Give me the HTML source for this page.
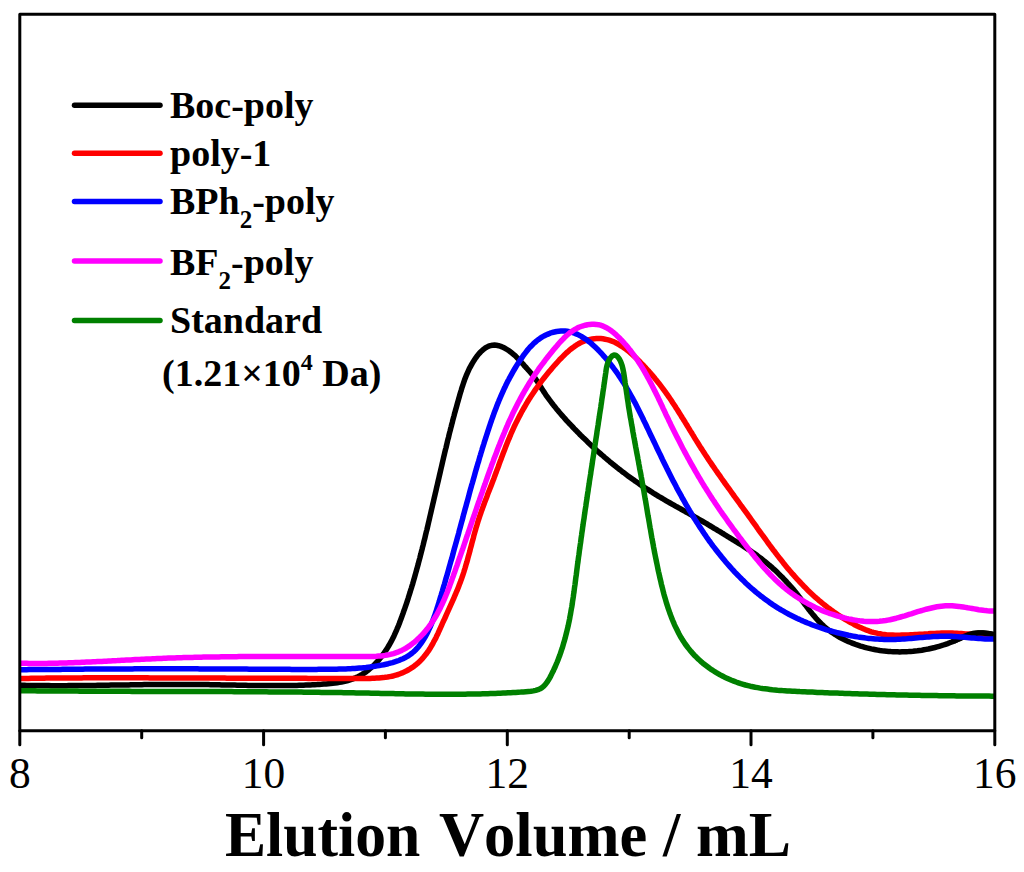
<!DOCTYPE html>
<html><head><meta charset="utf-8"><style>
html,body{margin:0;padding:0;background:#fff;}
svg{display:block;}
</style></head><body>
<svg width="1024" height="872" viewBox="0 0 1024 872">
<defs><clipPath id="cr"><rect x="955" y="600" width="45" height="60"/></clipPath></defs>
<rect width="1024" height="872" fill="#fff"/>
<g fill="none" stroke-width="5.5" stroke-linejoin="round" stroke-linecap="butt">
<path d="M20.1,685.2 L22.3,685.3 L24.5,685.3 L26.7,685.4 L28.9,685.4 L31.1,685.5 L33.3,685.5 L35.5,685.5 L37.7,685.6 L39.9,685.6 L42.1,685.6 L44.3,685.6 L46.6,685.6 L48.8,685.6 L51.0,685.7 L53.2,685.7 L55.4,685.7 L57.6,685.7 L59.8,685.7 L62.1,685.7 L64.3,685.7 L66.5,685.7 L68.7,685.6 L70.9,685.6 L73.1,685.6 L75.4,685.6 L77.6,685.6 L79.8,685.6 L82.0,685.5 L84.2,685.5 L86.5,685.5 L88.7,685.5 L90.9,685.4 L93.1,685.4 L95.3,685.4 L97.6,685.3 L99.8,685.3 L102.0,685.3 L104.2,685.2 L106.4,685.2 L108.7,685.2 L110.9,685.1 L113.1,685.1 L115.3,685.1 L117.6,685.0 L119.8,685.0 L122.0,685.0 L124.2,684.9 L126.4,684.9 L128.7,684.9 L130.9,684.8 L133.1,684.8 L135.3,684.8 L137.5,684.7 L139.8,684.7 L142.0,684.7 L144.2,684.6 L146.4,684.6 L148.6,684.6 L150.9,684.6 L153.1,684.5 L155.3,684.5 L157.5,684.5 L159.7,684.5 L162.0,684.4 L164.2,684.4 L166.4,684.4 L168.6,684.4 L170.8,684.4 L173.0,684.4 L175.3,684.4 L177.5,684.4 L179.7,684.4 L181.9,684.4 L184.1,684.4 L186.3,684.4 L188.5,684.4 L190.7,684.4 L193.0,684.4 L195.2,684.4 L197.4,684.5 L199.6,684.5 L201.8,684.5 L204.0,684.6 L206.2,684.6 L208.4,684.6 L210.6,684.7 L212.8,684.7 L215.0,684.7 L217.2,684.8 L219.4,684.8 L221.6,684.9 L223.8,684.9 L226.0,685.0 L228.3,685.0 L230.5,685.0 L232.7,685.1 L234.9,685.1 L237.1,685.2 L239.3,685.2 L241.5,685.3 L243.7,685.3 L245.9,685.3 L248.1,685.4 L250.3,685.4 L252.5,685.5 L254.7,685.5 L256.9,685.5 L259.2,685.5 L261.4,685.6 L263.6,685.6 L265.8,685.6 L268.0,685.6 L270.2,685.6 L272.4,685.6 L274.6,685.6 L276.9,685.6 L279.1,685.6 L281.3,685.6 L283.5,685.6 L285.7,685.6 L288.0,685.5 L290.2,685.5 L292.4,685.5 L294.7,685.4 L296.9,685.4 L299.1,685.3 L301.3,685.2 L303.6,685.2 L305.8,685.1 L308.1,685.0 L310.3,684.9 L312.5,684.8 L314.8,684.7 L317.0,684.6 L319.3,684.4 L321.5,684.3 L323.8,684.1 L326.0,684.0 L328.3,683.8 L330.5,683.6 L332.7,683.3 L335.0,683.1 L337.2,682.8 L339.4,682.4 L341.5,682.0 L343.7,681.6 L345.8,681.1 L347.9,680.5 L350.0,679.9 L352.1,679.2 L354.1,678.4 L356.1,677.6 L358.0,676.7 L359.9,675.7 L361.8,674.6 L363.7,673.4 L365.5,672.2 L367.2,670.9 L369.0,669.6 L370.6,668.1 L372.3,666.7 L373.9,665.1 L375.5,663.5 L377.0,661.9 L378.5,660.2 L379.9,658.5 L381.4,656.7 L382.7,654.9 L384.0,653.1 L385.3,651.2 L386.6,649.4 L387.8,647.4 L388.9,645.5 L390.0,643.6 L391.1,641.6 L392.1,639.7 L393.1,637.7 L394.1,635.7 L395.0,633.7 L395.9,631.7 L396.8,629.6 L397.6,627.6 L398.5,625.6 L399.3,623.5 L400.0,621.5 L400.8,619.4 L401.6,617.3 L402.3,615.3 L403.1,613.2 L403.8,611.1 L404.6,609.0 L405.3,606.9 L406.0,604.9 L406.7,602.8 L407.4,600.7 L408.1,598.6 L408.7,596.5 L409.4,594.3 L410.1,592.2 L410.7,590.1 L411.4,588.0 L412.0,585.9 L412.7,583.8 L413.3,581.6 L413.9,579.5 L414.5,577.4 L415.1,575.3 L415.7,573.1 L416.3,571.0 L416.9,568.8 L417.5,566.7 L418.1,564.6 L418.6,562.4 L419.2,560.3 L419.8,558.1 L420.3,556.0 L420.9,553.8 L421.4,551.7 L422.0,549.5 L422.5,547.4 L423.1,545.2 L423.6,543.1 L424.1,540.9 L424.7,538.8 L425.2,536.6 L425.7,534.4 L426.2,532.3 L426.8,530.1 L427.3,528.0 L427.8,525.8 L428.3,523.7 L428.8,521.5 L429.3,519.3 L429.8,517.2 L430.3,515.0 L430.8,512.9 L431.3,510.7 L431.8,508.5 L432.3,506.4 L432.8,504.2 L433.3,502.1 L433.8,499.9 L434.3,497.7 L434.8,495.6 L435.3,493.4 L435.8,491.3 L436.3,489.1 L436.8,486.9 L437.3,484.8 L437.8,482.6 L438.3,480.5 L438.8,478.3 L439.3,476.1 L439.8,474.0 L440.3,471.8 L440.8,469.7 L441.3,467.5 L441.8,465.4 L442.3,463.2 L442.8,461.0 L443.3,458.9 L443.8,456.7 L444.3,454.6 L444.8,452.4 L445.3,450.3 L445.9,448.1 L446.4,446.0 L446.9,443.8 L447.4,441.7 L447.9,439.5 L448.5,437.4 L449.0,435.2 L449.5,433.1 L450.1,430.9 L450.6,428.8 L451.2,426.6 L451.7,424.5 L452.3,422.4 L452.8,420.2 L453.4,418.1 L454.0,415.9 L454.5,413.8 L455.1,411.7 L455.7,409.5 L456.3,407.4 L456.9,405.2 L457.5,403.1 L458.1,401.0 L458.7,398.8 L459.3,396.7 L459.9,394.6 L460.5,392.5 L461.2,390.3 L461.8,388.2 L462.5,386.1 L463.2,384.0 L463.9,381.9 L464.6,379.8 L465.4,377.7 L466.2,375.7 L467.1,373.6 L468.0,371.6 L468.9,369.6 L469.9,367.6 L471.0,365.6 L472.1,363.6 L473.3,361.6 L474.5,359.7 L475.8,357.8 L477.2,355.9 L478.6,354.1 L480.1,352.5 L481.7,350.9 L483.3,349.4 L485.0,348.2 L486.8,347.1 L488.6,346.2 L490.5,345.6 L492.4,345.2 L494.5,345.1 L496.5,345.3 L498.6,345.7 L500.8,346.4 L502.9,347.3 L505.0,348.3 L507.0,349.5 L509.0,350.8 L510.9,352.2 L512.6,353.6 L514.4,355.1 L516.0,356.6 L517.6,358.2 L519.1,359.8 L520.6,361.5 L522.1,363.1 L523.6,364.7 L525.0,366.4 L526.5,368.0 L528.0,369.7 L529.4,371.3 L530.9,373.0 L532.3,374.6 L533.6,376.3 L535.0,378.1 L536.2,379.9 L537.5,381.7 L538.7,383.6 L539.8,385.5 L541.0,387.4 L542.2,389.2 L543.4,391.1 L544.6,392.9 L545.8,394.8 L547.1,396.6 L548.4,398.4 L549.7,400.2 L551.0,401.9 L552.4,403.7 L553.7,405.4 L555.1,407.1 L556.5,408.9 L557.9,410.6 L559.3,412.3 L560.8,414.0 L562.2,415.6 L563.7,417.3 L565.1,418.9 L566.6,420.6 L568.1,422.2 L569.6,423.8 L571.2,425.4 L572.7,427.0 L574.2,428.6 L575.8,430.2 L577.3,431.8 L578.9,433.4 L580.4,435.0 L582.0,436.5 L583.6,438.1 L585.2,439.6 L586.8,441.1 L588.4,442.7 L590.0,444.2 L591.6,445.7 L593.2,447.2 L594.9,448.7 L596.5,450.2 L598.2,451.7 L599.8,453.1 L601.5,454.6 L603.2,456.0 L604.8,457.5 L606.5,458.9 L608.2,460.3 L609.9,461.8 L611.6,463.2 L613.3,464.6 L615.1,465.9 L616.8,467.3 L618.5,468.7 L620.3,470.0 L622.0,471.4 L623.8,472.7 L625.6,474.1 L627.3,475.4 L629.1,476.7 L630.9,478.0 L632.7,479.3 L634.5,480.6 L636.3,481.8 L638.1,483.1 L640.0,484.4 L641.8,485.6 L643.6,486.8 L645.5,488.0 L647.3,489.2 L649.2,490.4 L651.1,491.6 L652.9,492.8 L654.8,494.0 L656.7,495.1 L658.6,496.3 L660.5,497.4 L662.4,498.5 L664.3,499.7 L666.2,500.8 L668.1,501.9 L670.1,503.0 L672.0,504.1 L673.9,505.2 L675.9,506.3 L677.8,507.3 L679.7,508.4 L681.7,509.5 L683.6,510.6 L685.5,511.7 L687.5,512.7 L689.4,513.8 L691.3,514.9 L693.2,516.0 L695.2,517.1 L697.1,518.2 L699.0,519.3 L700.9,520.4 L702.8,521.5 L704.7,522.6 L706.6,523.7 L708.5,524.9 L710.4,526.0 L712.3,527.1 L714.2,528.3 L716.1,529.4 L718.0,530.6 L719.9,531.7 L721.8,532.9 L723.7,534.0 L725.5,535.2 L727.4,536.3 L729.3,537.5 L731.2,538.6 L733.1,539.8 L735.0,541.0 L736.9,542.1 L738.8,543.3 L740.7,544.5 L742.6,545.7 L744.4,546.9 L746.3,548.1 L748.2,549.3 L750.0,550.5 L751.8,551.8 L753.7,553.0 L755.5,554.3 L757.3,555.6 L759.0,556.9 L760.8,558.2 L762.5,559.6 L764.2,561.0 L766.0,562.4 L767.7,563.8 L769.3,565.2 L771.0,566.6 L772.6,568.1 L774.3,569.6 L775.9,571.1 L777.5,572.6 L779.0,574.1 L780.6,575.7 L782.2,577.2 L783.7,578.8 L785.2,580.4 L786.7,582.0 L788.2,583.7 L789.7,585.3 L791.1,587.0 L792.6,588.6 L794.0,590.3 L795.4,592.0 L796.8,593.8 L798.2,595.5 L799.5,597.3 L800.9,599.0 L802.2,600.8 L803.6,602.6 L804.9,604.4 L806.3,606.1 L807.6,607.9 L809.0,609.7 L810.3,611.4 L811.7,613.1 L813.1,614.9 L814.6,616.5 L816.0,618.2 L817.5,619.9 L819.0,621.5 L820.5,623.0 L822.1,624.6 L823.7,626.1 L825.4,627.5 L827.1,628.9 L828.9,630.3 L830.7,631.6 L832.5,632.8 L834.4,634.1 L836.3,635.2 L838.2,636.4 L840.1,637.5 L842.1,638.5 L844.1,639.5 L846.1,640.5 L848.1,641.4 L850.2,642.3 L852.2,643.1 L854.3,643.9 L856.4,644.7 L858.5,645.4 L860.6,646.1 L862.7,646.7 L864.8,647.3 L867.0,647.9 L869.1,648.4 L871.3,648.9 L873.4,649.3 L875.6,649.7 L877.7,650.1 L879.9,650.5 L882.1,650.8 L884.3,651.0 L886.5,651.2 L888.7,651.4 L890.9,651.6 L893.1,651.7 L895.3,651.8 L897.5,651.8 L899.7,651.9 L902.0,651.8 L904.2,651.8 L906.4,651.7 L908.6,651.6 L910.8,651.4 L913.0,651.3 L915.2,651.0 L917.4,650.8 L919.6,650.5 L921.8,650.2 L924.0,649.8 L926.2,649.4 L928.4,649.0 L930.6,648.5 L932.7,648.0 L934.9,647.5 L937.0,646.9 L939.2,646.3 L941.3,645.7 L943.4,645.0 L945.5,644.3 L947.6,643.6 L949.7,642.8 L951.7,642.0 L953.8,641.1 L955.8,640.2 L957.8,639.3 L959.8,638.4 L961.8,637.5 L963.8,636.6 L965.9,635.8 L967.9,635.0 L969.9,634.4 L972.0,633.8 L974.1,633.4 L976.3,633.2 L978.4,633.0 L980.6,633.0 L982.8,633.1 L985.1,633.3 L987.3,633.5 L989.6,633.8 L991.8,634.2 L994.0,634.6" stroke="#000000"/>
<path d="M20.0,678.5 L22.2,678.5 L24.4,678.4 L26.6,678.4 L28.8,678.4 L31.0,678.3 L33.2,678.3 L35.4,678.3 L37.6,678.2 L39.8,678.2 L42.0,678.2 L44.2,678.2 L46.4,678.1 L48.6,678.1 L50.8,678.1 L53.0,678.1 L55.2,678.0 L57.4,678.0 L59.6,678.0 L61.8,678.0 L64.0,678.0 L66.2,677.9 L68.4,677.9 L70.6,677.9 L72.8,677.9 L75.0,677.9 L77.2,677.9 L79.4,677.9 L81.6,677.9 L83.8,677.8 L86.0,677.8 L88.2,677.8 L90.4,677.8 L92.6,677.8 L94.8,677.8 L97.0,677.8 L99.2,677.8 L101.4,677.8 L103.6,677.8 L105.8,677.8 L108.0,677.8 L110.2,677.8 L112.4,677.8 L114.7,677.8 L116.9,677.8 L119.1,677.8 L121.3,677.8 L123.5,677.8 L125.7,677.8 L127.9,677.8 L130.1,677.8 L132.3,677.8 L134.5,677.8 L136.7,677.8 L138.9,677.8 L141.1,677.8 L143.3,677.8 L145.5,677.8 L147.7,677.8 L149.9,677.9 L152.1,677.9 L154.3,677.9 L156.5,677.9 L158.7,677.9 L160.9,677.9 L163.1,677.9 L165.3,677.9 L167.5,677.9 L169.7,677.9 L171.9,677.9 L174.1,677.9 L176.3,678.0 L178.5,678.0 L180.7,678.0 L182.9,678.0 L185.1,678.0 L187.3,678.0 L189.5,678.0 L191.7,678.0 L193.9,678.0 L196.1,678.0 L198.3,678.0 L200.5,678.1 L202.7,678.1 L204.9,678.1 L207.1,678.1 L209.3,678.1 L211.5,678.1 L213.7,678.1 L215.9,678.1 L218.1,678.1 L220.3,678.1 L222.5,678.1 L224.7,678.1 L226.9,678.2 L229.1,678.2 L231.2,678.2 L233.4,678.2 L235.6,678.2 L237.8,678.2 L240.0,678.2 L242.2,678.2 L244.4,678.2 L246.6,678.2 L248.8,678.2 L251.0,678.2 L253.2,678.2 L255.4,678.2 L257.6,678.2 L259.8,678.2 L262.0,678.3 L264.2,678.3 L266.4,678.3 L268.6,678.3 L270.8,678.3 L273.0,678.3 L275.2,678.3 L277.4,678.3 L279.6,678.3 L281.8,678.3 L284.0,678.3 L286.2,678.3 L288.3,678.3 L290.5,678.3 L292.7,678.3 L294.9,678.3 L297.1,678.3 L299.4,678.3 L301.6,678.3 L303.8,678.3 L306.0,678.3 L308.2,678.4 L310.4,678.4 L312.6,678.4 L314.8,678.4 L317.0,678.4 L319.2,678.4 L321.4,678.4 L323.6,678.4 L325.8,678.4 L328.0,678.4 L330.2,678.4 L332.4,678.4 L334.6,678.4 L336.9,678.4 L339.1,678.4 L341.3,678.4 L343.5,678.4 L345.7,678.4 L347.9,678.4 L350.1,678.4 L352.4,678.4 L354.6,678.4 L356.8,678.4 L359.0,678.4 L361.2,678.4 L363.5,678.4 L365.7,678.4 L367.9,678.4 L370.1,678.4 L372.3,678.3 L374.5,678.2 L376.7,678.1 L378.9,678.0 L381.1,677.8 L383.3,677.6 L385.4,677.3 L387.6,677.0 L389.7,676.6 L391.8,676.2 L393.9,675.7 L396.0,675.1 L398.1,674.5 L400.1,673.7 L402.2,672.9 L404.2,672.0 L406.2,671.1 L408.1,670.0 L410.0,668.9 L411.9,667.7 L413.7,666.4 L415.5,665.1 L417.2,663.7 L418.8,662.2 L420.4,660.7 L421.9,659.1 L423.3,657.5 L424.7,655.8 L426.1,654.1 L427.3,652.4 L428.6,650.6 L429.8,648.8 L430.9,646.9 L432.0,645.0 L433.1,643.1 L434.1,641.1 L435.2,639.2 L436.2,637.2 L437.1,635.2 L438.1,633.2 L439.0,631.2 L439.9,629.1 L440.8,627.1 L441.7,625.1 L442.6,623.0 L443.5,621.0 L444.5,619.0 L445.4,617.0 L446.3,614.9 L447.2,612.9 L448.1,610.9 L449.0,608.9 L449.9,606.9 L450.8,604.9 L451.7,602.9 L452.6,600.9 L453.5,598.9 L454.3,596.9 L455.2,594.9 L456.0,592.9 L456.9,590.9 L457.7,588.9 L458.5,586.9 L459.3,584.8 L460.1,582.8 L460.8,580.8 L461.6,578.7 L462.3,576.6 L463.0,574.6 L463.7,572.5 L464.3,570.4 L465.0,568.3 L465.6,566.2 L466.2,564.1 L466.9,561.9 L467.5,559.8 L468.0,557.7 L468.6,555.5 L469.2,553.4 L469.8,551.3 L470.3,549.1 L470.9,547.0 L471.5,544.8 L472.0,542.7 L472.6,540.5 L473.2,538.4 L473.7,536.3 L474.3,534.1 L474.9,532.0 L475.5,529.9 L476.1,527.7 L476.8,525.6 L477.4,523.5 L478.0,521.4 L478.7,519.3 L479.4,517.2 L480.1,515.2 L480.8,513.1 L481.5,511.0 L482.3,509.0 L483.0,506.9 L483.8,504.8 L484.5,502.8 L485.3,500.7 L486.1,498.7 L486.9,496.7 L487.6,494.6 L488.4,492.6 L489.2,490.5 L490.0,488.5 L490.8,486.4 L491.6,484.4 L492.4,482.3 L493.2,480.3 L494.0,478.2 L494.7,476.2 L495.5,474.1 L496.3,472.0 L497.0,469.9 L497.8,467.9 L498.6,465.8 L499.3,463.7 L500.1,461.6 L500.9,459.5 L501.6,457.5 L502.4,455.4 L503.2,453.3 L504.0,451.2 L504.8,449.2 L505.6,447.1 L506.4,445.0 L507.2,443.0 L508.0,440.9 L508.9,438.9 L509.7,436.9 L510.6,434.8 L511.4,432.8 L512.3,430.8 L513.2,428.8 L514.1,426.8 L515.1,424.8 L516.0,422.9 L517.0,420.9 L518.0,419.0 L519.0,417.0 L520.0,415.1 L521.0,413.2 L522.0,411.3 L523.1,409.4 L524.2,407.5 L525.3,405.6 L526.4,403.7 L527.5,401.8 L528.6,400.0 L529.8,398.1 L531.0,396.3 L532.2,394.5 L533.4,392.7 L534.6,390.9 L535.8,389.1 L537.1,387.3 L538.4,385.5 L539.6,383.7 L541.0,382.0 L542.3,380.2 L543.6,378.5 L545.0,376.7 L546.4,375.0 L547.8,373.3 L549.2,371.6 L550.6,369.9 L552.0,368.2 L553.5,366.5 L555.0,364.8 L556.5,363.2 L558.0,361.5 L559.5,359.8 L561.1,358.2 L562.7,356.6 L564.3,355.0 L565.9,353.4 L567.6,351.9 L569.2,350.4 L571.0,349.0 L572.7,347.7 L574.5,346.4 L576.3,345.2 L578.2,344.0 L580.0,343.0 L582.0,342.1 L584.0,341.2 L586.0,340.5 L588.1,339.9 L590.2,339.4 L592.3,339.0 L594.4,338.7 L596.5,338.6 L598.7,338.6 L600.8,338.6 L602.9,338.8 L605.1,339.2 L607.1,339.6 L609.2,340.2 L611.2,340.9 L613.2,341.6 L615.2,342.5 L617.1,343.5 L619.0,344.6 L620.9,345.8 L622.8,347.0 L624.6,348.3 L626.4,349.6 L628.1,351.0 L629.9,352.5 L631.6,354.0 L633.3,355.5 L635.0,357.1 L636.6,358.6 L638.3,360.2 L639.9,361.8 L641.4,363.4 L643.0,365.0 L644.5,366.6 L646.0,368.2 L647.5,369.9 L649.0,371.5 L650.4,373.1 L651.9,374.8 L653.3,376.4 L654.7,378.1 L656.0,379.8 L657.4,381.5 L658.8,383.2 L660.1,384.9 L661.4,386.6 L662.7,388.3 L664.0,390.1 L665.3,391.9 L666.5,393.6 L667.8,395.4 L669.0,397.2 L670.3,399.0 L671.5,400.8 L672.7,402.7 L673.9,404.5 L675.1,406.3 L676.3,408.2 L677.5,410.0 L678.6,411.9 L679.8,413.7 L681.0,415.6 L682.1,417.5 L683.3,419.4 L684.5,421.2 L685.6,423.1 L686.8,425.0 L687.9,426.9 L689.1,428.8 L690.2,430.7 L691.4,432.5 L692.5,434.4 L693.7,436.3 L694.8,438.2 L696.0,440.1 L697.2,442.0 L698.3,443.8 L699.5,445.7 L700.7,447.6 L701.9,449.4 L703.1,451.3 L704.3,453.1 L705.5,455.0 L706.7,456.8 L707.9,458.6 L709.1,460.5 L710.4,462.3 L711.6,464.1 L712.8,465.9 L714.1,467.7 L715.3,469.5 L716.6,471.3 L717.8,473.1 L719.1,474.9 L720.4,476.7 L721.6,478.5 L722.9,480.3 L724.2,482.1 L725.4,483.9 L726.7,485.7 L728.0,487.5 L729.3,489.2 L730.6,491.0 L731.9,492.8 L733.2,494.6 L734.4,496.4 L735.7,498.1 L737.0,499.9 L738.3,501.7 L739.6,503.5 L740.9,505.3 L742.2,507.0 L743.5,508.8 L744.8,510.6 L746.1,512.4 L747.4,514.2 L748.6,515.9 L749.9,517.7 L751.2,519.5 L752.5,521.3 L753.8,523.1 L755.1,524.9 L756.4,526.7 L757.6,528.5 L758.9,530.3 L760.2,532.1 L761.5,533.9 L762.8,535.6 L764.1,537.4 L765.4,539.2 L766.7,541.0 L768.0,542.8 L769.3,544.6 L770.6,546.3 L771.9,548.1 L773.2,549.9 L774.6,551.6 L775.9,553.4 L777.2,555.1 L778.6,556.9 L779.9,558.6 L781.3,560.3 L782.7,562.0 L784.0,563.8 L785.4,565.5 L786.8,567.2 L788.2,568.9 L789.6,570.5 L791.1,572.2 L792.5,573.9 L794.0,575.5 L795.4,577.2 L796.9,578.8 L798.4,580.4 L799.9,582.0 L801.4,583.6 L802.9,585.2 L804.4,586.8 L806.0,588.3 L807.5,589.9 L809.1,591.4 L810.7,592.9 L812.3,594.4 L813.9,595.9 L815.5,597.4 L817.2,598.8 L818.8,600.3 L820.5,601.7 L822.2,603.1 L823.9,604.5 L825.6,605.8 L827.3,607.2 L829.1,608.5 L830.8,609.8 L832.6,611.1 L834.4,612.4 L836.2,613.6 L838.0,614.9 L839.9,616.1 L841.7,617.3 L843.6,618.4 L845.5,619.6 L847.4,620.7 L849.3,621.8 L851.2,622.9 L853.2,623.9 L855.1,625.0 L857.1,626.0 L859.1,626.9 L861.1,627.8 L863.2,628.7 L865.2,629.6 L867.3,630.3 L869.4,631.1 L871.4,631.8 L873.5,632.4 L875.7,632.9 L877.8,633.4 L879.9,633.8 L882.1,634.2 L884.2,634.4 L886.4,634.7 L888.6,634.9 L890.8,635.0 L892.9,635.1 L895.1,635.2 L897.3,635.2 L899.5,635.2 L901.7,635.1 L903.9,635.1 L906.1,635.0 L908.3,634.9 L910.5,634.8 L912.7,634.7 L914.9,634.6 L917.1,634.5 L919.4,634.3 L921.6,634.2 L923.8,634.1 L926.0,633.9 L928.2,633.8 L930.4,633.6 L932.6,633.5 L934.8,633.4 L937.0,633.3 L939.2,633.2 L941.4,633.1 L943.6,633.1 L945.8,633.1 L948.0,633.1 L950.2,633.1 L952.4,633.1 L954.6,633.2 L956.8,633.3 L959.0,633.4 L961.2,633.5 L963.4,633.7 L965.6,633.9 L967.8,634.1 L969.9,634.3 L972.1,634.5 L974.3,634.7 L976.5,634.9 L978.7,635.2 L980.9,635.4 L983.1,635.7 L985.2,636.0 L987.4,636.2 L989.6,636.5 L991.8,636.7 L994.0,637.0" stroke="#ff0000"/>
<path d="M20.1,685.2 L22.3,685.3 L24.5,685.3 L26.7,685.4 L28.9,685.4 L31.1,685.5 L33.3,685.5 L35.5,685.5 L37.7,685.6 L39.9,685.6 L42.1,685.6 L44.3,685.6 L46.6,685.6 L48.8,685.6 L51.0,685.7 L53.2,685.7 L55.4,685.7 L57.6,685.7 L59.8,685.7 L62.1,685.7 L64.3,685.7 L66.5,685.7 L68.7,685.6 L70.9,685.6 L73.1,685.6 L75.4,685.6 L77.6,685.6 L79.8,685.6 L82.0,685.5 L84.2,685.5 L86.5,685.5 L88.7,685.5 L90.9,685.4 L93.1,685.4 L95.3,685.4 L97.6,685.3 L99.8,685.3 L102.0,685.3 L104.2,685.2 L106.4,685.2 L108.7,685.2 L110.9,685.1 L113.1,685.1 L115.3,685.1 L117.6,685.0 L119.8,685.0 L122.0,685.0 L124.2,684.9 L126.4,684.9 L128.7,684.9 L130.9,684.8 L133.1,684.8 L135.3,684.8 L137.5,684.7 L139.8,684.7 L142.0,684.7 L144.2,684.6 L146.4,684.6 L148.6,684.6 L150.9,684.6 L153.1,684.5 L155.3,684.5 L157.5,684.5 L159.7,684.5 L162.0,684.4 L164.2,684.4 L166.4,684.4 L168.6,684.4 L170.8,684.4 L173.0,684.4 L175.3,684.4 L177.5,684.4 L179.7,684.4 L181.9,684.4 L184.1,684.4 L186.3,684.4 L188.5,684.4 L190.7,684.4 L193.0,684.4 L195.2,684.4 L197.4,684.5 L199.6,684.5 L201.8,684.5 L204.0,684.6 L206.2,684.6 L208.4,684.6 L210.6,684.7 L212.8,684.7 L215.0,684.7 L217.2,684.8 L219.4,684.8 L221.6,684.9 L223.8,684.9 L226.0,685.0 L228.3,685.0 L230.5,685.0 L232.7,685.1 L234.9,685.1 L237.1,685.2 L239.3,685.2 L241.5,685.3 L243.7,685.3 L245.9,685.3 L248.1,685.4 L250.3,685.4 L252.5,685.5 L254.7,685.5 L256.9,685.5 L259.2,685.5 L261.4,685.6 L263.6,685.6 L265.8,685.6 L268.0,685.6 L270.2,685.6 L272.4,685.6 L274.6,685.6 L276.9,685.6 L279.1,685.6 L281.3,685.6 L283.5,685.6 L285.7,685.6 L288.0,685.5 L290.2,685.5 L292.4,685.5 L294.7,685.4 L296.9,685.4 L299.1,685.3 L301.3,685.2 L303.6,685.2 L305.8,685.1 L308.1,685.0 L310.3,684.9 L312.5,684.8 L314.8,684.7 L317.0,684.6 L319.3,684.4 L321.5,684.3 L323.8,684.1 L326.0,684.0 L328.3,683.8 L330.5,683.6 L332.7,683.3 L335.0,683.1 L337.2,682.8 L339.4,682.4 L341.5,682.0 L343.7,681.6 L345.8,681.1 L347.9,680.5 L350.0,679.9 L352.1,679.2 L354.1,678.4 L356.1,677.6 L358.0,676.7 L359.9,675.7 L361.8,674.6 L363.7,673.4 L365.5,672.2 L367.2,670.9 L369.0,669.6 L370.6,668.1 L372.3,666.7 L373.9,665.1 L375.5,663.5 L377.0,661.9 L378.5,660.2 L379.9,658.5 L381.4,656.7 L382.7,654.9 L384.0,653.1 L385.3,651.2 L386.6,649.4 L387.8,647.4 L388.9,645.5 L390.0,643.6 L391.1,641.6 L392.1,639.7 L393.1,637.7 L394.1,635.7 L395.0,633.7 L395.9,631.7 L396.8,629.6 L397.6,627.6 L398.5,625.6 L399.3,623.5 L400.0,621.5 L400.8,619.4 L401.6,617.3 L402.3,615.3 L403.1,613.2 L403.8,611.1 L404.6,609.0 L405.3,606.9 L406.0,604.9 L406.7,602.8 L407.4,600.7 L408.1,598.6 L408.7,596.5 L409.4,594.3 L410.1,592.2 L410.7,590.1 L411.4,588.0 L412.0,585.9 L412.7,583.8 L413.3,581.6 L413.9,579.5 L414.5,577.4 L415.1,575.3 L415.7,573.1 L416.3,571.0 L416.9,568.8 L417.5,566.7 L418.1,564.6 L418.6,562.4 L419.2,560.3 L419.8,558.1 L420.3,556.0 L420.9,553.8 L421.4,551.7 L422.0,549.5 L422.5,547.4 L423.1,545.2 L423.6,543.1 L424.1,540.9 L424.7,538.8 L425.2,536.6 L425.7,534.4 L426.2,532.3 L426.8,530.1 L427.3,528.0 L427.8,525.8 L428.3,523.7 L428.8,521.5 L429.3,519.3 L429.8,517.2 L430.3,515.0 L430.8,512.9 L431.3,510.7 L431.8,508.5 L432.3,506.4 L432.8,504.2 L433.3,502.1 L433.8,499.9 L434.3,497.7 L434.8,495.6 L435.3,493.4 L435.8,491.3 L436.3,489.1 L436.8,486.9 L437.3,484.8 L437.8,482.6 L438.3,480.5 L438.8,478.3 L439.3,476.1 L439.8,474.0 L440.3,471.8 L440.8,469.7 L441.3,467.5 L441.8,465.4 L442.3,463.2 L442.8,461.0 L443.3,458.9 L443.8,456.7 L444.3,454.6 L444.8,452.4 L445.3,450.3 L445.9,448.1 L446.4,446.0 L446.9,443.8 L447.4,441.7 L447.9,439.5 L448.5,437.4 L449.0,435.2 L449.5,433.1 L450.1,430.9 L450.6,428.8 L451.2,426.6 L451.7,424.5 L452.3,422.4 L452.8,420.2 L453.4,418.1 L454.0,415.9 L454.5,413.8 L455.1,411.7 L455.7,409.5 L456.3,407.4 L456.9,405.2 L457.5,403.1 L458.1,401.0 L458.7,398.8 L459.3,396.7 L459.9,394.6 L460.5,392.5 L461.2,390.3 L461.8,388.2 L462.5,386.1 L463.2,384.0 L463.9,381.9 L464.6,379.8 L465.4,377.7 L466.2,375.7 L467.1,373.6 L468.0,371.6 L468.9,369.6 L469.9,367.6 L471.0,365.6 L472.1,363.6 L473.3,361.6 L474.5,359.7 L475.8,357.8 L477.2,355.9 L478.6,354.1 L480.1,352.5 L481.7,350.9 L483.3,349.4 L485.0,348.2 L486.8,347.1 L488.6,346.2 L490.5,345.6 L492.4,345.2 L494.5,345.1 L496.5,345.3 L498.6,345.7 L500.8,346.4 L502.9,347.3 L505.0,348.3 L507.0,349.5 L509.0,350.8 L510.9,352.2 L512.6,353.6 L514.4,355.1 L516.0,356.6 L517.6,358.2 L519.1,359.8 L520.6,361.5 L522.1,363.1 L523.6,364.7 L525.0,366.4 L526.5,368.0 L528.0,369.7 L529.4,371.3 L530.9,373.0 L532.3,374.6 L533.6,376.3 L535.0,378.1 L536.2,379.9 L537.5,381.7 L538.7,383.6 L539.8,385.5 L541.0,387.4 L542.2,389.2 L543.4,391.1 L544.6,392.9 L545.8,394.8 L547.1,396.6 L548.4,398.4 L549.7,400.2 L551.0,401.9 L552.4,403.7 L553.7,405.4 L555.1,407.1 L556.5,408.9 L557.9,410.6 L559.3,412.3 L560.8,414.0 L562.2,415.6 L563.7,417.3 L565.1,418.9 L566.6,420.6 L568.1,422.2 L569.6,423.8 L571.2,425.4 L572.7,427.0 L574.2,428.6 L575.8,430.2 L577.3,431.8 L578.9,433.4 L580.4,435.0 L582.0,436.5 L583.6,438.1 L585.2,439.6 L586.8,441.1 L588.4,442.7 L590.0,444.2 L591.6,445.7 L593.2,447.2 L594.9,448.7 L596.5,450.2 L598.2,451.7 L599.8,453.1 L601.5,454.6 L603.2,456.0 L604.8,457.5 L606.5,458.9 L608.2,460.3 L609.9,461.8 L611.6,463.2 L613.3,464.6 L615.1,465.9 L616.8,467.3 L618.5,468.7 L620.3,470.0 L622.0,471.4 L623.8,472.7 L625.6,474.1 L627.3,475.4 L629.1,476.7 L630.9,478.0 L632.7,479.3 L634.5,480.6 L636.3,481.8 L638.1,483.1 L640.0,484.4 L641.8,485.6 L643.6,486.8 L645.5,488.0 L647.3,489.2 L649.2,490.4 L651.1,491.6 L652.9,492.8 L654.8,494.0 L656.7,495.1 L658.6,496.3 L660.5,497.4 L662.4,498.5 L664.3,499.7 L666.2,500.8 L668.1,501.9 L670.1,503.0 L672.0,504.1 L673.9,505.2 L675.9,506.3 L677.8,507.3 L679.7,508.4 L681.7,509.5 L683.6,510.6 L685.5,511.7 L687.5,512.7 L689.4,513.8 L691.3,514.9 L693.2,516.0 L695.2,517.1 L697.1,518.2 L699.0,519.3 L700.9,520.4 L702.8,521.5 L704.7,522.6 L706.6,523.7 L708.5,524.9 L710.4,526.0 L712.3,527.1 L714.2,528.3 L716.1,529.4 L718.0,530.6 L719.9,531.7 L721.8,532.9 L723.7,534.0 L725.5,535.2 L727.4,536.3 L729.3,537.5 L731.2,538.6 L733.1,539.8 L735.0,541.0 L736.9,542.1 L738.8,543.3 L740.7,544.5 L742.6,545.7 L744.4,546.9 L746.3,548.1 L748.2,549.3 L750.0,550.5 L751.8,551.8 L753.7,553.0 L755.5,554.3 L757.3,555.6 L759.0,556.9 L760.8,558.2 L762.5,559.6 L764.2,561.0 L766.0,562.4 L767.7,563.8 L769.3,565.2 L771.0,566.6 L772.6,568.1 L774.3,569.6 L775.9,571.1 L777.5,572.6 L779.0,574.1 L780.6,575.7 L782.2,577.2 L783.7,578.8 L785.2,580.4 L786.7,582.0 L788.2,583.7 L789.7,585.3 L791.1,587.0 L792.6,588.6 L794.0,590.3 L795.4,592.0 L796.8,593.8 L798.2,595.5 L799.5,597.3 L800.9,599.0 L802.2,600.8 L803.6,602.6 L804.9,604.4 L806.3,606.1 L807.6,607.9 L809.0,609.7 L810.3,611.4 L811.7,613.1 L813.1,614.9 L814.6,616.5 L816.0,618.2 L817.5,619.9 L819.0,621.5 L820.5,623.0 L822.1,624.6 L823.7,626.1 L825.4,627.5 L827.1,628.9 L828.9,630.3 L830.7,631.6 L832.5,632.8 L834.4,634.1 L836.3,635.2 L838.2,636.4 L840.1,637.5 L842.1,638.5 L844.1,639.5 L846.1,640.5 L848.1,641.4 L850.2,642.3 L852.2,643.1 L854.3,643.9 L856.4,644.7 L858.5,645.4 L860.6,646.1 L862.7,646.7 L864.8,647.3 L867.0,647.9 L869.1,648.4 L871.3,648.9 L873.4,649.3 L875.6,649.7 L877.7,650.1 L879.9,650.5 L882.1,650.8 L884.3,651.0 L886.5,651.2 L888.7,651.4 L890.9,651.6 L893.1,651.7 L895.3,651.8 L897.5,651.8 L899.7,651.9 L902.0,651.8 L904.2,651.8 L906.4,651.7 L908.6,651.6 L910.8,651.4 L913.0,651.3 L915.2,651.0 L917.4,650.8 L919.6,650.5 L921.8,650.2 L924.0,649.8 L926.2,649.4 L928.4,649.0 L930.6,648.5 L932.7,648.0 L934.9,647.5 L937.0,646.9 L939.2,646.3 L941.3,645.7 L943.4,645.0 L945.5,644.3 L947.6,643.6 L949.7,642.8 L951.7,642.0 L953.8,641.1 L955.8,640.2 L957.8,639.3 L959.8,638.4 L961.8,637.5 L963.8,636.6 L965.9,635.8 L967.9,635.0 L969.9,634.4 L972.0,633.8 L974.1,633.4 L976.3,633.2 L978.4,633.0 L980.6,633.0 L982.8,633.1 L985.1,633.3 L987.3,633.5 L989.6,633.8 L991.8,634.2 L994.0,634.6" stroke="#000000" clip-path="url(#cr)"/>
<path d="M20.0,669.7 L22.3,669.7 L24.5,669.7 L26.7,669.7 L29.0,669.6 L31.2,669.6 L33.5,669.6 L35.7,669.6 L38.0,669.6 L40.2,669.5 L42.5,669.5 L44.7,669.5 L47.0,669.5 L49.2,669.5 L51.4,669.4 L53.7,669.4 L55.9,669.4 L58.2,669.4 L60.4,669.4 L62.7,669.3 L64.9,669.3 L67.2,669.3 L69.4,669.3 L71.7,669.3 L73.9,669.2 L76.2,669.2 L78.4,669.2 L80.7,669.2 L82.9,669.2 L85.1,669.1 L87.4,669.1 L89.6,669.1 L91.9,669.1 L94.1,669.1 L96.4,669.1 L98.6,669.0 L100.9,669.0 L103.1,669.0 L105.4,669.0 L107.6,669.0 L109.9,669.0 L112.1,669.0 L114.4,668.9 L116.6,668.9 L118.9,668.9 L121.1,668.9 L123.4,668.9 L125.6,668.9 L127.8,668.9 L130.1,668.9 L132.3,668.9 L134.6,668.8 L136.8,668.8 L139.1,668.8 L141.3,668.8 L143.6,668.8 L145.8,668.8 L148.1,668.8 L150.3,668.8 L152.6,668.8 L154.8,668.8 L157.1,668.8 L159.3,668.8 L161.5,668.8 L163.8,668.8 L166.0,668.8 L168.3,668.8 L170.5,668.8 L172.8,668.8 L175.0,668.8 L177.3,668.8 L179.5,668.8 L181.8,668.8 L184.0,668.8 L186.2,668.8 L188.5,668.8 L190.7,668.8 L193.0,668.8 L195.2,668.8 L197.5,668.8 L199.7,668.9 L201.9,668.9 L204.2,668.9 L206.4,668.9 L208.7,668.9 L210.9,668.9 L213.2,668.9 L215.4,668.9 L217.6,669.0 L219.9,669.0 L222.1,669.0 L224.4,669.0 L226.6,669.0 L228.9,669.0 L231.1,669.0 L233.3,669.1 L235.6,669.1 L237.8,669.1 L240.1,669.1 L242.3,669.1 L244.6,669.1 L246.8,669.1 L249.1,669.2 L251.3,669.2 L253.5,669.2 L255.8,669.2 L258.0,669.2 L260.3,669.2 L262.5,669.2 L264.8,669.2 L267.0,669.3 L269.3,669.3 L271.5,669.3 L273.8,669.3 L276.0,669.3 L278.2,669.3 L280.5,669.3 L282.7,669.3 L285.0,669.3 L287.2,669.3 L289.5,669.3 L291.7,669.4 L294.0,669.4 L296.2,669.4 L298.5,669.4 L300.7,669.4 L303.0,669.4 L305.2,669.4 L307.5,669.4 L309.7,669.4 L312.0,669.4 L314.2,669.4 L316.5,669.4 L318.7,669.3 L321.0,669.3 L323.3,669.3 L325.5,669.3 L327.8,669.3 L330.0,669.3 L332.3,669.3 L334.5,669.2 L336.8,669.2 L339.0,669.1 L341.3,669.1 L343.5,669.0 L345.8,668.9 L348.0,668.8 L350.3,668.7 L352.5,668.6 L354.8,668.5 L357.0,668.3 L359.3,668.1 L361.5,667.9 L363.7,667.7 L366.0,667.5 L368.2,667.2 L370.4,666.9 L372.7,666.6 L374.9,666.3 L377.1,665.9 L379.3,665.5 L381.5,665.1 L383.7,664.7 L386.0,664.2 L388.2,663.7 L390.3,663.1 L392.5,662.6 L394.7,661.9 L396.8,661.2 L398.9,660.5 L400.9,659.6 L403.0,658.7 L404.9,657.8 L406.9,656.7 L408.7,655.6 L410.5,654.3 L412.2,653.0 L413.9,651.6 L415.5,650.0 L417.0,648.4 L418.5,646.7 L419.9,644.9 L421.2,643.1 L422.5,641.2 L423.7,639.3 L424.9,637.3 L426.0,635.3 L427.1,633.3 L428.1,631.2 L429.1,629.1 L430.1,627.1 L431.0,625.0 L431.8,622.9 L432.7,620.8 L433.5,618.7 L434.3,616.6 L435.0,614.5 L435.7,612.4 L436.5,610.3 L437.1,608.1 L437.8,606.0 L438.5,603.8 L439.2,601.7 L439.8,599.6 L440.4,597.4 L441.1,595.3 L441.7,593.1 L442.4,591.0 L443.0,588.8 L443.6,586.7 L444.3,584.5 L444.9,582.4 L445.5,580.2 L446.1,578.1 L446.8,575.9 L447.4,573.8 L448.0,571.6 L448.6,569.5 L449.2,567.3 L449.8,565.1 L450.4,563.0 L451.0,560.8 L451.7,558.7 L452.3,556.5 L452.9,554.3 L453.4,552.2 L454.0,550.0 L454.6,547.8 L455.2,545.7 L455.8,543.5 L456.4,541.4 L457.0,539.2 L457.6,537.0 L458.2,534.9 L458.8,532.7 L459.3,530.5 L459.9,528.4 L460.5,526.2 L461.1,524.0 L461.7,521.8 L462.3,519.7 L462.9,517.5 L463.4,515.3 L464.0,513.2 L464.6,511.0 L465.2,508.8 L465.8,506.7 L466.4,504.5 L467.0,502.3 L467.6,500.2 L468.2,498.0 L468.8,495.8 L469.3,493.7 L469.9,491.5 L470.5,489.3 L471.1,487.2 L471.7,485.0 L472.4,482.8 L473.0,480.7 L473.6,478.5 L474.2,476.4 L474.8,474.2 L475.4,472.0 L476.0,469.9 L476.7,467.7 L477.3,465.6 L477.9,463.4 L478.6,461.3 L479.2,459.1 L479.8,456.9 L480.5,454.8 L481.1,452.6 L481.8,450.5 L482.4,448.3 L483.1,446.2 L483.8,444.0 L484.4,441.9 L485.1,439.8 L485.8,437.6 L486.5,435.5 L487.2,433.3 L487.9,431.2 L488.6,429.1 L489.3,426.9 L490.0,424.8 L490.7,422.7 L491.5,420.5 L492.2,418.4 L493.0,416.3 L493.7,414.2 L494.5,412.1 L495.3,410.0 L496.1,407.9 L496.9,405.8 L497.7,403.7 L498.6,401.6 L499.4,399.6 L500.3,397.5 L501.2,395.4 L502.1,393.4 L503.0,391.3 L503.9,389.3 L504.9,387.3 L505.8,385.3 L506.8,383.3 L507.8,381.2 L508.9,379.3 L509.9,377.3 L511.0,375.3 L512.1,373.3 L513.2,371.4 L514.3,369.5 L515.5,367.5 L516.6,365.6 L517.8,363.7 L519.1,361.8 L520.3,359.9 L521.6,358.1 L522.9,356.2 L524.2,354.4 L525.6,352.6 L527.0,350.8 L528.4,349.0 L529.9,347.3 L531.5,345.7 L533.1,344.1 L534.7,342.6 L536.4,341.1 L538.2,339.7 L540.0,338.4 L541.9,337.2 L543.9,336.0 L545.9,335.0 L548.0,334.1 L550.1,333.2 L552.2,332.5 L554.4,332.0 L556.6,331.5 L558.8,331.2 L560.9,331.0 L563.1,331.0 L565.2,331.1 L567.3,331.3 L569.4,331.7 L571.5,332.2 L573.5,332.8 L575.5,333.6 L577.5,334.4 L579.4,335.4 L581.3,336.4 L583.2,337.6 L585.1,338.8 L587.0,340.1 L588.8,341.5 L590.6,342.9 L592.3,344.4 L594.0,346.0 L595.7,347.6 L597.4,349.2 L599.0,350.9 L600.7,352.6 L602.2,354.3 L603.8,356.1 L605.3,357.8 L606.8,359.6 L608.3,361.4 L609.7,363.1 L611.1,364.9 L612.5,366.7 L613.8,368.5 L615.2,370.4 L616.5,372.2 L617.8,374.0 L619.0,375.9 L620.3,377.8 L621.5,379.6 L622.7,381.5 L623.9,383.4 L625.1,385.3 L626.2,387.2 L627.3,389.1 L628.4,391.0 L629.5,392.9 L630.6,394.8 L631.7,396.8 L632.8,398.7 L633.8,400.7 L634.9,402.6 L635.9,404.6 L636.9,406.5 L637.9,408.5 L638.9,410.5 L639.9,412.5 L640.9,414.5 L641.9,416.5 L642.9,418.5 L643.8,420.5 L644.8,422.5 L645.8,424.5 L646.7,426.5 L647.7,428.6 L648.7,430.6 L649.6,432.6 L650.6,434.7 L651.6,436.7 L652.5,438.7 L653.5,440.8 L654.5,442.8 L655.5,444.9 L656.4,446.9 L657.4,449.0 L658.4,451.0 L659.4,453.1 L660.4,455.1 L661.4,457.2 L662.3,459.2 L663.3,461.2 L664.3,463.3 L665.3,465.3 L666.3,467.3 L667.3,469.4 L668.4,471.4 L669.4,473.4 L670.4,475.4 L671.4,477.4 L672.4,479.4 L673.4,481.4 L674.5,483.4 L675.5,485.3 L676.5,487.3 L677.6,489.3 L678.6,491.2 L679.7,493.2 L680.8,495.1 L681.8,497.1 L682.9,499.0 L684.0,500.9 L685.1,502.9 L686.2,504.8 L687.3,506.7 L688.4,508.6 L689.5,510.5 L690.7,512.4 L691.8,514.4 L693.0,516.3 L694.2,518.2 L695.4,520.1 L696.6,522.0 L697.8,523.9 L699.0,525.8 L700.2,527.6 L701.5,529.5 L702.7,531.4 L704.0,533.3 L705.3,535.1 L706.5,537.0 L707.8,538.8 L709.1,540.7 L710.5,542.5 L711.8,544.3 L713.1,546.1 L714.5,547.9 L715.9,549.7 L717.3,551.5 L718.7,553.3 L720.1,555.0 L721.5,556.8 L722.9,558.5 L724.4,560.3 L725.8,562.0 L727.3,563.7 L728.8,565.4 L730.3,567.1 L731.8,568.8 L733.3,570.4 L734.8,572.1 L736.4,573.7 L737.9,575.3 L739.5,576.9 L741.1,578.5 L742.7,580.1 L744.3,581.6 L745.9,583.2 L747.6,584.7 L749.2,586.2 L750.9,587.7 L752.6,589.2 L754.3,590.6 L756.0,592.1 L757.7,593.5 L759.5,594.9 L761.2,596.3 L763.0,597.6 L764.8,599.0 L766.6,600.3 L768.4,601.6 L770.2,602.9 L772.0,604.1 L773.9,605.4 L775.8,606.6 L777.7,607.8 L779.6,609.0 L781.5,610.1 L783.4,611.2 L785.4,612.3 L787.3,613.4 L789.3,614.5 L791.3,615.5 L793.3,616.5 L795.3,617.5 L797.3,618.5 L799.4,619.4 L801.4,620.4 L803.5,621.3 L805.5,622.1 L807.6,623.0 L809.7,623.8 L811.8,624.7 L813.9,625.5 L816.0,626.2 L818.2,627.0 L820.3,627.7 L822.4,628.4 L824.6,629.1 L826.7,629.8 L828.9,630.4 L831.1,631.0 L833.2,631.6 L835.4,632.2 L837.6,632.8 L839.8,633.3 L842.0,633.8 L844.2,634.3 L846.4,634.8 L848.6,635.3 L850.8,635.7 L853.0,636.1 L855.2,636.5 L857.5,636.9 L859.7,637.2 L861.9,637.5 L864.1,637.8 L866.3,638.1 L868.6,638.4 L870.8,638.6 L873.0,638.8 L875.3,639.0 L877.5,639.1 L879.7,639.2 L882.0,639.3 L884.2,639.4 L886.4,639.5 L888.7,639.5 L890.9,639.5 L893.2,639.4 L895.4,639.4 L897.6,639.3 L899.9,639.2 L902.1,639.1 L904.4,638.9 L906.6,638.8 L908.8,638.6 L911.1,638.4 L913.3,638.2 L915.6,638.0 L917.8,637.8 L920.0,637.6 L922.3,637.5 L924.5,637.3 L926.8,637.1 L929.0,636.9 L931.2,636.8 L933.5,636.6 L935.7,636.5 L938.0,636.4 L940.2,636.3 L942.4,636.3 L944.7,636.2 L946.9,636.2 L949.2,636.3 L951.4,636.3 L953.6,636.4 L955.9,636.6 L958.1,636.7 L960.4,636.9 L962.6,637.1 L964.8,637.3 L967.1,637.5 L969.3,637.7 L971.6,637.9 L973.8,638.1 L976.1,638.3 L978.3,638.4 L980.5,638.6 L982.8,638.8 L985.0,638.9 L987.3,639.0 L989.5,639.1 L991.8,639.1 L994.0,639.1" stroke="#0000ff"/>
<path d="M20.0,663.2 L22.2,663.3 L24.4,663.3 L26.7,663.3 L28.9,663.4 L31.1,663.4 L33.3,663.4 L35.5,663.4 L37.7,663.4 L39.9,663.4 L42.1,663.4 L44.3,663.4 L46.6,663.4 L48.8,663.3 L51.0,663.3 L53.2,663.3 L55.4,663.2 L57.6,663.2 L59.8,663.1 L62.0,663.0 L64.2,663.0 L66.5,662.9 L68.7,662.8 L70.9,662.8 L73.1,662.7 L75.3,662.6 L77.5,662.5 L79.7,662.4 L81.9,662.3 L84.1,662.2 L86.4,662.1 L88.6,662.0 L90.8,661.9 L93.0,661.8 L95.2,661.7 L97.4,661.6 L99.6,661.5 L101.8,661.4 L104.1,661.3 L106.3,661.2 L108.5,661.0 L110.7,660.9 L112.9,660.8 L115.1,660.7 L117.3,660.6 L119.5,660.4 L121.7,660.3 L124.0,660.2 L126.2,660.1 L128.4,660.0 L130.6,659.9 L132.8,659.7 L135.0,659.6 L137.2,659.5 L139.4,659.4 L141.6,659.3 L143.8,659.2 L146.1,659.1 L148.3,659.0 L150.5,658.9 L152.7,658.8 L154.9,658.7 L157.1,658.6 L159.3,658.5 L161.5,658.4 L163.7,658.3 L165.9,658.2 L168.2,658.1 L170.4,658.0 L172.6,658.0 L174.8,657.9 L177.0,657.8 L179.2,657.8 L181.4,657.7 L183.6,657.6 L185.8,657.6 L188.0,657.5 L190.2,657.4 L192.5,657.4 L194.7,657.3 L196.9,657.3 L199.1,657.2 L201.3,657.2 L203.5,657.1 L205.7,657.1 L207.9,657.1 L210.1,657.0 L212.3,657.0 L214.5,656.9 L216.8,656.9 L219.0,656.9 L221.2,656.8 L223.4,656.8 L225.6,656.8 L227.8,656.8 L230.0,656.7 L232.2,656.7 L234.4,656.7 L236.7,656.7 L238.9,656.6 L241.1,656.6 L243.3,656.6 L245.5,656.6 L247.7,656.6 L249.9,656.6 L252.1,656.6 L254.3,656.6 L256.6,656.5 L258.8,656.5 L261.0,656.5 L263.2,656.5 L265.4,656.5 L267.6,656.5 L269.8,656.5 L272.0,656.5 L274.3,656.5 L276.5,656.5 L278.7,656.5 L280.9,656.5 L283.1,656.5 L285.3,656.5 L287.5,656.5 L289.8,656.5 L292.0,656.5 L294.2,656.5 L296.4,656.5 L298.6,656.5 L300.8,656.5 L303.1,656.5 L305.3,656.5 L307.5,656.5 L309.7,656.5 L311.9,656.5 L314.1,656.5 L316.4,656.5 L318.6,656.5 L320.8,656.6 L323.0,656.6 L325.2,656.6 L327.5,656.6 L329.7,656.6 L331.9,656.6 L334.1,656.6 L336.3,656.6 L338.6,656.6 L340.8,656.6 L343.0,656.6 L345.2,656.6 L347.5,656.6 L349.7,656.6 L351.9,656.6 L354.1,656.6 L356.4,656.6 L358.6,656.6 L360.8,656.6 L363.0,656.6 L365.3,656.6 L367.5,656.5 L369.7,656.5 L371.9,656.5 L374.1,656.4 L376.4,656.3 L378.5,656.1 L380.7,655.9 L382.9,655.7 L385.1,655.4 L387.2,655.0 L389.3,654.6 L391.4,654.1 L393.5,653.6 L395.6,652.9 L397.7,652.2 L399.7,651.3 L401.7,650.4 L403.7,649.4 L405.6,648.3 L407.5,647.1 L409.4,645.9 L411.2,644.6 L413.0,643.2 L414.8,641.8 L416.5,640.3 L418.1,638.8 L419.7,637.3 L421.3,635.7 L422.8,634.1 L424.3,632.5 L425.7,630.8 L427.1,629.1 L428.4,627.4 L429.7,625.6 L431.0,623.8 L432.2,622.0 L433.4,620.2 L434.6,618.4 L435.7,616.5 L436.8,614.6 L437.8,612.7 L438.9,610.7 L439.9,608.8 L440.8,606.8 L441.8,604.8 L442.7,602.8 L443.6,600.8 L444.5,598.8 L445.4,596.7 L446.2,594.7 L447.1,592.6 L447.9,590.6 L448.7,588.5 L449.5,586.4 L450.2,584.3 L451.0,582.2 L451.8,580.1 L452.5,578.0 L453.3,575.9 L454.0,573.8 L454.8,571.7 L455.5,569.6 L456.2,567.5 L457.0,565.4 L457.7,563.3 L458.4,561.2 L459.1,559.1 L459.9,557.0 L460.6,554.9 L461.3,552.8 L462.0,550.8 L462.8,548.7 L463.5,546.6 L464.2,544.5 L464.9,542.4 L465.6,540.3 L466.3,538.2 L467.0,536.1 L467.8,534.0 L468.5,532.0 L469.2,529.9 L469.9,527.8 L470.6,525.7 L471.3,523.6 L472.0,521.5 L472.7,519.5 L473.4,517.4 L474.2,515.3 L474.9,513.2 L475.6,511.1 L476.3,509.0 L477.0,507.0 L477.7,504.9 L478.4,502.8 L479.2,500.7 L479.9,498.6 L480.6,496.6 L481.3,494.5 L482.1,492.4 L482.8,490.3 L483.5,488.2 L484.2,486.2 L485.0,484.1 L485.7,482.0 L486.4,479.9 L487.2,477.8 L487.9,475.7 L488.6,473.7 L489.4,471.6 L490.1,469.5 L490.9,467.4 L491.6,465.3 L492.4,463.3 L493.2,461.2 L493.9,459.1 L494.7,457.0 L495.5,455.0 L496.3,452.9 L497.1,450.8 L497.8,448.7 L498.6,446.7 L499.5,444.6 L500.3,442.5 L501.1,440.5 L501.9,438.4 L502.8,436.4 L503.6,434.3 L504.5,432.3 L505.3,430.3 L506.2,428.2 L507.1,426.2 L507.9,424.2 L508.8,422.1 L509.8,420.1 L510.7,418.1 L511.6,416.1 L512.5,414.1 L513.5,412.1 L514.5,410.1 L515.4,408.2 L516.4,406.2 L517.4,404.2 L518.4,402.3 L519.5,400.3 L520.5,398.4 L521.6,396.4 L522.6,394.5 L523.7,392.6 L524.8,390.7 L525.9,388.8 L527.0,386.9 L528.2,385.0 L529.3,383.1 L530.5,381.3 L531.7,379.4 L532.9,377.5 L534.1,375.7 L535.3,373.9 L536.6,372.1 L537.9,370.2 L539.1,368.4 L540.4,366.6 L541.7,364.9 L543.1,363.1 L544.4,361.3 L545.7,359.5 L547.1,357.8 L548.5,356.0 L549.9,354.3 L551.3,352.6 L552.7,350.8 L554.1,349.1 L555.5,347.4 L557.0,345.7 L558.4,344.0 L559.9,342.3 L561.4,340.7 L563.0,339.1 L564.5,337.5 L566.1,336.0 L567.8,334.5 L569.5,333.1 L571.3,331.8 L573.1,330.5 L574.9,329.4 L576.9,328.3 L578.9,327.3 L581.0,326.5 L583.1,325.8 L585.3,325.2 L587.5,324.7 L589.7,324.4 L591.9,324.2 L594.1,324.2 L596.2,324.4 L598.4,324.7 L600.4,325.2 L602.5,325.9 L604.4,326.7 L606.4,327.7 L608.3,328.8 L610.1,330.0 L611.9,331.3 L613.6,332.7 L615.3,334.1 L617.0,335.7 L618.6,337.2 L620.2,338.8 L621.8,340.5 L623.3,342.1 L624.8,343.8 L626.3,345.4 L627.7,347.1 L629.1,348.9 L630.5,350.6 L631.8,352.4 L633.1,354.1 L634.4,355.9 L635.7,357.7 L637.0,359.5 L638.2,361.4 L639.4,363.2 L640.6,365.1 L641.7,366.9 L642.9,368.8 L644.0,370.7 L645.1,372.6 L646.2,374.5 L647.2,376.4 L648.3,378.4 L649.3,380.3 L650.4,382.3 L651.4,384.2 L652.4,386.2 L653.4,388.2 L654.4,390.2 L655.4,392.1 L656.3,394.1 L657.3,396.1 L658.3,398.1 L659.2,400.1 L660.2,402.1 L661.1,404.1 L662.1,406.1 L663.0,408.2 L664.0,410.2 L664.9,412.2 L665.8,414.2 L666.8,416.2 L667.8,418.2 L668.7,420.2 L669.7,422.2 L670.6,424.2 L671.6,426.2 L672.6,428.2 L673.6,430.2 L674.6,432.2 L675.6,434.2 L676.6,436.2 L677.6,438.1 L678.6,440.1 L679.6,442.1 L680.6,444.1 L681.6,446.0 L682.6,448.0 L683.7,450.0 L684.7,451.9 L685.8,453.9 L686.8,455.8 L687.9,457.8 L689.0,459.7 L690.0,461.6 L691.1,463.6 L692.2,465.5 L693.3,467.4 L694.4,469.4 L695.5,471.3 L696.6,473.2 L697.7,475.1 L698.8,477.0 L700.0,478.9 L701.1,480.8 L702.2,482.7 L703.4,484.6 L704.5,486.5 L705.7,488.3 L706.9,490.2 L708.1,492.1 L709.2,493.9 L710.4,495.8 L711.6,497.6 L712.8,499.5 L714.1,501.3 L715.3,503.2 L716.5,505.0 L717.7,506.8 L719.0,508.7 L720.2,510.5 L721.5,512.3 L722.7,514.1 L724.0,515.9 L725.3,517.7 L726.6,519.5 L727.8,521.3 L729.1,523.1 L730.4,524.9 L731.7,526.7 L733.0,528.5 L734.3,530.3 L735.7,532.0 L737.0,533.8 L738.3,535.6 L739.6,537.4 L741.0,539.1 L742.3,540.9 L743.7,542.7 L745.0,544.4 L746.4,546.2 L747.7,547.9 L749.1,549.7 L750.5,551.4 L751.9,553.2 L753.3,554.9 L754.6,556.7 L756.1,558.4 L757.5,560.1 L758.9,561.8 L760.3,563.5 L761.8,565.2 L763.2,566.9 L764.7,568.5 L766.2,570.2 L767.7,571.8 L769.2,573.4 L770.7,575.0 L772.3,576.6 L773.8,578.1 L775.4,579.7 L777.0,581.2 L778.6,582.7 L780.2,584.2 L781.9,585.6 L783.6,587.1 L785.3,588.5 L787.0,589.8 L788.7,591.2 L790.5,592.5 L792.2,593.8 L794.0,595.1 L795.8,596.3 L797.7,597.5 L799.5,598.7 L801.4,599.9 L803.3,601.0 L805.2,602.1 L807.1,603.2 L809.0,604.3 L811.0,605.3 L812.9,606.3 L814.9,607.3 L816.9,608.2 L818.9,609.1 L820.9,610.0 L823.0,610.9 L825.0,611.7 L827.1,612.5 L829.2,613.3 L831.3,614.0 L833.4,614.7 L835.5,615.4 L837.7,616.1 L839.8,616.7 L842.0,617.3 L844.1,617.8 L846.3,618.4 L848.5,618.9 L850.7,619.3 L852.9,619.8 L855.1,620.1 L857.3,620.5 L859.5,620.8 L861.7,621.0 L863.9,621.3 L866.1,621.4 L868.3,621.5 L870.5,621.6 L872.7,621.6 L874.9,621.5 L877.1,621.4 L879.2,621.3 L881.4,621.1 L883.6,620.8 L885.7,620.5 L887.8,620.1 L890.0,619.7 L892.1,619.2 L894.2,618.7 L896.3,618.2 L898.5,617.6 L900.6,617.0 L902.7,616.4 L904.8,615.8 L907.0,615.1 L909.1,614.4 L911.2,613.8 L913.3,613.1 L915.5,612.4 L917.6,611.7 L919.7,611.1 L921.9,610.5 L924.0,609.8 L926.2,609.2 L928.3,608.7 L930.5,608.2 L932.6,607.7 L934.8,607.2 L936.9,606.8 L939.1,606.5 L941.3,606.2 L943.4,606.0 L945.6,605.8 L947.8,605.8 L950.0,605.7 L952.2,605.8 L954.4,606.0 L956.6,606.2 L958.8,606.4 L961.0,606.7 L963.2,607.0 L965.4,607.4 L967.6,607.8 L969.8,608.1 L972.1,608.5 L974.3,608.9 L976.5,609.3 L978.7,609.7 L980.9,610.0 L983.1,610.3 L985.3,610.6 L987.4,610.8 L989.6,610.9 L991.8,611.0 L993.9,611.0" stroke="#ff00ff"/>
<path d="M20.1,690.7 L22.6,690.7 L25.0,690.8 L27.5,690.8 L30.0,690.8 L32.5,690.8 L35.0,690.8 L37.4,690.9 L39.9,690.9 L42.4,690.9 L44.9,690.9 L47.4,691.0 L49.9,691.0 L52.3,691.0 L54.8,691.0 L57.3,691.0 L59.8,691.0 L62.3,691.1 L64.8,691.1 L67.3,691.1 L69.7,691.1 L72.2,691.1 L74.7,691.1 L77.2,691.1 L79.7,691.2 L82.2,691.2 L84.7,691.2 L87.2,691.2 L89.6,691.2 L92.1,691.2 L94.6,691.2 L97.1,691.2 L99.6,691.2 L102.1,691.3 L104.6,691.3 L107.1,691.3 L109.6,691.3 L112.1,691.3 L114.5,691.3 L117.0,691.3 L119.5,691.3 L122.0,691.3 L124.5,691.3 L127.0,691.3 L129.5,691.3 L132.0,691.4 L134.5,691.4 L137.0,691.4 L139.5,691.4 L142.0,691.4 L144.4,691.4 L146.9,691.4 L149.4,691.4 L151.9,691.4 L154.4,691.4 L156.9,691.4 L159.4,691.4 L161.9,691.4 L164.4,691.4 L166.9,691.4 L169.4,691.4 L171.9,691.5 L174.4,691.5 L176.9,691.5 L179.3,691.5 L181.8,691.5 L184.3,691.5 L186.8,691.5 L189.3,691.5 L191.8,691.5 L194.3,691.5 L196.8,691.5 L199.3,691.5 L201.8,691.5 L204.3,691.5 L206.8,691.5 L209.3,691.6 L211.8,691.6 L214.3,691.6 L216.8,691.6 L219.2,691.6 L221.7,691.6 L224.2,691.6 L226.7,691.6 L229.2,691.6 L231.7,691.6 L234.2,691.7 L236.7,691.7 L239.2,691.7 L241.7,691.7 L244.2,691.7 L246.7,691.7 L249.2,691.7 L251.7,691.7 L254.1,691.8 L256.6,691.8 L259.1,691.8 L261.6,691.8 L264.1,691.8 L266.6,691.8 L269.1,691.9 L271.6,691.9 L274.1,691.9 L276.6,691.9 L279.1,691.9 L281.5,691.9 L284.0,692.0 L286.5,692.0 L289.0,692.0 L291.5,692.0 L294.0,692.1 L296.5,692.1 L299.0,692.1 L301.4,692.1 L303.9,692.2 L306.4,692.2 L308.9,692.2 L311.4,692.2 L313.9,692.3 L316.4,692.3 L318.9,692.3 L321.3,692.4 L323.8,692.4 L326.3,692.4 L328.8,692.5 L331.3,692.5 L333.8,692.5 L336.2,692.6 L338.7,692.6 L341.2,692.6 L343.7,692.7 L346.2,692.7 L348.7,692.8 L351.1,692.8 L353.6,692.8 L356.1,692.9 L358.6,692.9 L361.1,693.0 L363.5,693.0 L366.0,693.1 L368.5,693.1 L371.0,693.2 L373.4,693.2 L375.9,693.3 L378.4,693.3 L380.9,693.4 L383.3,693.4 L385.8,693.5 L388.3,693.5 L390.8,693.6 L393.3,693.6 L395.7,693.7 L398.2,693.7 L400.7,693.8 L403.2,693.8 L405.6,693.9 L408.1,693.9 L410.6,693.9 L413.1,694.0 L415.6,694.0 L418.0,694.1 L420.5,694.1 L423.0,694.1 L425.5,694.2 L428.0,694.2 L430.4,694.2 L432.9,694.2 L435.4,694.2 L437.9,694.3 L440.4,694.3 L442.9,694.3 L445.4,694.3 L447.8,694.3 L450.3,694.3 L452.8,694.3 L455.3,694.3 L457.8,694.2 L460.3,694.2 L462.8,694.2 L465.3,694.2 L467.8,694.1 L470.3,694.1 L472.8,694.1 L475.3,694.0 L477.8,694.0 L480.3,693.9 L482.8,693.8 L485.4,693.8 L487.9,693.7 L490.4,693.6 L492.9,693.5 L495.4,693.4 L497.9,693.3 L500.5,693.2 L503.0,693.1 L505.5,693.0 L508.0,692.8 L510.6,692.7 L513.1,692.5 L515.6,692.4 L518.2,692.2 L520.7,692.1 L523.3,691.9 L525.8,691.7 L528.4,691.5 L530.9,691.3 L533.3,690.9 L535.7,690.4 L538.0,689.7 L540.1,688.8 L542.0,687.6 L543.8,686.1 L545.4,684.4 L546.9,682.4 L548.3,680.3 L549.6,678.1 L550.8,675.9 L551.9,673.6 L553.1,671.3 L554.1,669.0 L555.2,666.7 L556.2,664.3 L557.2,662.0 L558.1,659.7 L559.0,657.3 L559.9,655.0 L560.7,652.6 L561.5,650.2 L562.3,647.9 L563.0,645.5 L563.7,643.1 L564.4,640.7 L565.1,638.3 L565.7,635.9 L566.3,633.5 L566.9,631.1 L567.5,628.7 L568.1,626.2 L568.6,623.8 L569.1,621.4 L569.6,619.0 L570.0,616.5 L570.5,614.1 L570.9,611.6 L571.3,609.2 L571.8,606.7 L572.2,604.3 L572.5,601.8 L572.9,599.4 L573.3,596.9 L573.6,594.4 L574.0,592.0 L574.3,589.5 L574.6,587.0 L575.0,584.6 L575.3,582.1 L575.6,579.6 L575.9,577.2 L576.3,574.7 L576.6,572.2 L576.9,569.7 L577.2,567.3 L577.5,564.8 L577.9,562.3 L578.2,559.9 L578.5,557.4 L578.9,554.9 L579.2,552.5 L579.5,550.0 L579.9,547.5 L580.2,545.1 L580.6,542.6 L580.9,540.1 L581.2,537.7 L581.6,535.2 L581.9,532.7 L582.3,530.3 L582.6,527.8 L583.0,525.3 L583.3,522.9 L583.7,520.4 L584.1,518.0 L584.4,515.5 L584.8,513.0 L585.1,510.6 L585.5,508.1 L585.9,505.7 L586.2,503.2 L586.6,500.7 L587.0,498.3 L587.3,495.8 L587.7,493.3 L588.1,490.9 L588.4,488.4 L588.8,486.0 L589.2,483.5 L589.5,481.0 L589.9,478.6 L590.3,476.1 L590.7,473.7 L591.0,471.2 L591.4,468.7 L591.8,466.3 L592.2,463.8 L592.5,461.4 L592.9,458.9 L593.3,456.4 L593.7,454.0 L594.0,451.5 L594.4,449.1 L594.8,446.6 L595.2,444.1 L595.5,441.7 L595.9,439.2 L596.3,436.7 L596.7,434.3 L597.0,431.8 L597.4,429.4 L597.8,426.9 L598.2,424.4 L598.5,422.0 L598.9,419.5 L599.3,417.0 L599.6,414.6 L600.0,412.1 L600.4,409.6 L600.8,407.2 L601.1,404.7 L601.5,402.2 L601.8,399.8 L602.2,397.3 L602.6,394.8 L602.9,392.4 L603.3,389.9 L603.7,387.4 L604.0,384.9 L604.4,382.5 L604.7,380.0 L605.1,377.5 L605.4,375.1 L605.8,372.6 L606.1,370.1 L606.5,367.6 L607.1,365.2 L607.8,362.8 L608.8,360.5 L610.1,358.3 L611.9,356.2 L613.8,355.0 L615.7,355.2 L617.5,356.6 L619.1,358.7 L620.4,361.0 L621.4,363.5 L622.2,365.9 L622.8,368.4 L623.3,370.9 L623.8,373.4 L624.2,375.9 L624.5,378.3 L624.9,380.8 L625.2,383.2 L625.6,385.7 L625.9,388.1 L626.3,390.6 L626.6,393.0 L627.0,395.4 L627.3,397.9 L627.7,400.3 L628.1,402.8 L628.4,405.2 L628.8,407.7 L629.2,410.1 L629.6,412.6 L630.0,415.0 L630.4,417.5 L630.9,419.9 L631.3,422.4 L631.7,424.9 L632.2,427.3 L632.6,429.8 L633.0,432.2 L633.5,434.7 L633.9,437.2 L634.4,439.6 L634.8,442.1 L635.3,444.6 L635.7,447.0 L636.2,449.5 L636.6,451.9 L637.1,454.4 L637.6,456.9 L638.0,459.3 L638.5,461.8 L638.9,464.3 L639.4,466.7 L639.8,469.2 L640.3,471.6 L640.8,474.1 L641.2,476.5 L641.7,479.0 L642.1,481.4 L642.5,483.9 L643.0,486.4 L643.4,488.8 L643.9,491.2 L644.3,493.7 L644.7,496.1 L645.1,498.6 L645.6,501.0 L646.0,503.5 L646.4,505.9 L646.8,508.3 L647.2,510.8 L647.6,513.2 L648.0,515.6 L648.5,518.1 L648.9,520.5 L649.3,522.9 L649.7,525.4 L650.1,527.8 L650.6,530.2 L651.0,532.7 L651.4,535.1 L651.8,537.5 L652.3,539.9 L652.7,542.4 L653.2,544.8 L653.6,547.2 L654.1,549.7 L654.5,552.1 L655.0,554.5 L655.5,557.0 L656.0,559.4 L656.5,561.9 L657.0,564.3 L657.5,566.7 L658.0,569.2 L658.5,571.6 L659.1,574.1 L659.6,576.5 L660.2,579.0 L660.8,581.4 L661.3,583.9 L661.9,586.3 L662.6,588.8 L663.2,591.3 L663.8,593.7 L664.5,596.2 L665.2,598.6 L665.9,601.0 L666.6,603.4 L667.4,605.9 L668.2,608.3 L669.0,610.6 L669.8,613.0 L670.7,615.4 L671.6,617.7 L672.5,620.0 L673.5,622.3 L674.4,624.6 L675.5,626.9 L676.6,629.1 L677.7,631.3 L678.8,633.5 L680.0,635.7 L681.2,637.8 L682.5,639.9 L683.9,642.0 L685.2,644.0 L686.7,646.0 L688.1,647.9 L689.7,649.9 L691.2,651.7 L692.9,653.6 L694.5,655.4 L696.3,657.1 L698.0,658.9 L699.9,660.5 L701.7,662.2 L703.6,663.8 L705.6,665.3 L707.6,666.8 L709.6,668.3 L711.6,669.7 L713.7,671.0 L715.9,672.4 L718.0,673.6 L720.2,674.9 L722.4,676.0 L724.6,677.2 L726.9,678.2 L729.2,679.2 L731.5,680.2 L733.8,681.1 L736.1,682.0 L738.4,682.8 L740.8,683.6 L743.2,684.3 L745.5,685.0 L747.9,685.6 L750.3,686.2 L752.8,686.7 L755.2,687.2 L757.6,687.6 L760.1,688.1 L762.5,688.5 L765.0,688.8 L767.4,689.1 L769.9,689.4 L772.4,689.7 L774.9,689.9 L777.4,690.2 L779.8,690.4 L782.3,690.6 L784.8,690.7 L787.3,690.9 L789.8,691.0 L792.3,691.2 L794.8,691.3 L797.4,691.4 L799.9,691.6 L802.4,691.7 L804.9,691.8 L807.4,691.9 L809.9,692.0 L812.4,692.1 L814.9,692.2 L817.3,692.4 L819.8,692.5 L822.3,692.6 L824.8,692.7 L827.3,692.8 L829.8,692.9 L832.3,693.0 L834.8,693.1 L837.3,693.1 L839.8,693.2 L842.3,693.3 L844.8,693.4 L847.2,693.5 L849.7,693.6 L852.2,693.7 L854.7,693.8 L857.2,693.8 L859.7,693.9 L862.2,694.0 L864.6,694.1 L867.1,694.1 L869.6,694.2 L872.1,694.3 L874.6,694.3 L877.1,694.4 L879.5,694.5 L882.0,694.5 L884.5,694.6 L887.0,694.7 L889.5,694.7 L891.9,694.8 L894.4,694.8 L896.9,694.9 L899.4,695.0 L901.9,695.0 L904.4,695.1 L906.8,695.1 L909.3,695.2 L911.8,695.2 L914.3,695.3 L916.8,695.3 L919.3,695.3 L921.7,695.4 L924.2,695.4 L926.7,695.5 L929.2,695.5 L931.7,695.6 L934.2,695.6 L936.7,695.6 L939.1,695.7 L941.6,695.7 L944.1,695.7 L946.6,695.8 L949.1,695.8 L951.6,695.8 L954.1,695.8 L956.6,695.9 L959.1,695.9 L961.6,695.9 L964.1,696.0 L966.6,696.0 L969.0,696.0 L971.5,696.0 L974.0,696.0 L976.5,696.1 L979.0,696.1 L981.5,696.1 L984.0,696.1 L986.5,696.1 L989.1,696.1 L991.6,696.2 L994.1,696.2" stroke="#008000"/>
</g>
<g fill="none" stroke="#000" stroke-width="3" stroke-linecap="round">
<rect x="19.8" y="14.2" width="975" height="716.5" stroke-linejoin="round"/>
<line x1="19.8" y1="730.7" x2="19.8" y2="744.7"/><line x1="141.7" y1="730.7" x2="141.7" y2="737.7"/><line x1="263.6" y1="730.7" x2="263.6" y2="744.7"/><line x1="385.4" y1="730.7" x2="385.4" y2="737.7"/><line x1="507.3" y1="730.7" x2="507.3" y2="744.7"/><line x1="629.2" y1="730.7" x2="629.2" y2="737.7"/><line x1="751.0" y1="730.7" x2="751.0" y2="744.7"/><line x1="872.9" y1="730.7" x2="872.9" y2="737.7"/><line x1="994.8" y1="730.7" x2="994.8" y2="744.7"/>
</g>
<g font-family="'Liberation Serif', serif" font-size="43.5" text-anchor="middle" fill="#000">
<text x="19.8" y="788">8</text><text x="263.6" y="788">10</text><text x="507.3" y="788">12</text><text x="751.0" y="788">14</text><text x="994.8" y="788">16</text>
</g>
<g fill="none" stroke-width="5.5" stroke-linecap="round">
<line x1="74.5" y1="105.3" x2="160" y2="105.3" stroke="#000000"/><line x1="74.5" y1="153.2" x2="160" y2="153.2" stroke="#ff0000"/><line x1="74.5" y1="201.6" x2="160" y2="201.6" stroke="#0000ff"/><line x1="74.5" y1="260.9" x2="160" y2="260.9" stroke="#ff00ff"/><line x1="74.5" y1="320.5" x2="160" y2="320.5" stroke="#008000"/>
</g>
<g font-family="'Liberation Serif', serif" font-weight="bold" font-size="38" fill="#000">
<text x="170" y="118.0">Boc-poly</text><text x="170" y="166.1">poly-1</text><text x="170" y="213.7">BPh<tspan font-size="25" dy="14">2</tspan><tspan dy="-14">-poly</tspan></text><text x="170" y="274.5">BF<tspan font-size="25" dy="14">2</tspan><tspan dy="-14">-poly</tspan></text><text x="170" y="333.0">Standard</text><text x="162" y="386">(1.21×10<tspan font-size="24" dy="-16">4</tspan><tspan dy="16"> Da)</tspan></text>
</g>
<g font-family="'Liberation Serif', serif" font-weight="bold" font-size="62.5" fill="#000" style="font-kerning:none">
<text x="225.0" y="856" textLength="195.3" lengthAdjust="spacingAndGlyphs">Elution</text>
<text x="438.9" y="856">Volume</text>
<text x="662.9" y="856">/</text>
<text x="696.0" y="856" textLength="95" lengthAdjust="spacingAndGlyphs">mL</text>
</g>
</svg>
</body></html>
